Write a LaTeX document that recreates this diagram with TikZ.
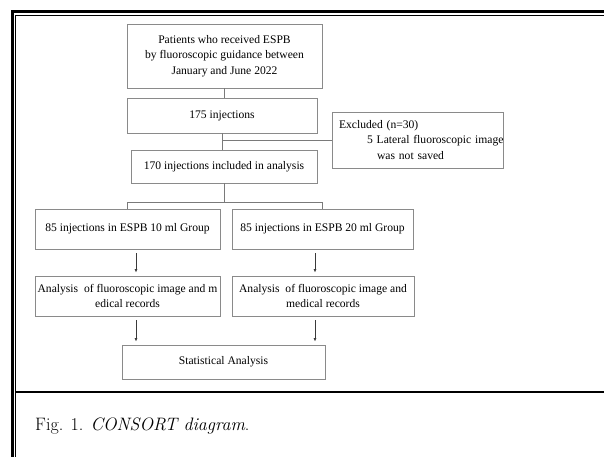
\documentclass[tikz,border=0pt]{standalone}
\usepackage{fontspec}
\usepackage{tikz}
\usetikzlibrary{arrows.meta,calc}
\usepackage{xcolor}
\newfontfamily\boxfont{Liberation Serif}
\definecolor{BoxGray}{HTML}{8A8A8A}
\definecolor{LinkGray}{HTML}{7A7A7A}
\definecolor{ArrowDark}{HTML}{3A3A3A}

\begin{document}
\begin{tikzpicture}[x=1pt,y=-1pt,>={Latex[length=3.5pt,width=3pt]},
  box/.style={draw=BoxGray,line width=.9pt,inner sep=2pt,align=center,
    font=\boxfont\fontsize{11.6}{15.5}\selectfont},
  link/.style={draw=LinkGray,line width=.9pt},
  arr/.style={->,draw=ArrowDark,line width=.7pt,shorten <=4pt,shorten >=3pt}]
\useasboundingbox (0,0) rectangle (604,456);

% Rahmen
\draw[line width=3pt] (12.5,470) -- (12.5,11.5) -- (620,11.5);
\draw[line width=1pt] (15.5,470) -- (15.5,15) -- (620,15);
\draw[line width=1.5pt] (15,392) -- (620,392);

% Kaesten
\node[box,minimum width=195pt,minimum height=64pt] (src) at (224.5,56)
  {Patients who received ESPB\\by fluoroscopic guidance between\\January and June 2022};
\node[box,minimum width=190pt,minimum height=35pt] (inj) at (222,115.5) {175 injections};
\node[box,minimum width=186pt,minimum height=33pt] (incl) at (224,166.5) {170 injections included in analysis};
\node[box,align=left,text width=157pt,inner xsep=7pt,minimum height=56pt] (excl) at (417.5,140)
  {\mbox{Excluded (n=30)}\\\mbox{\hspace{28pt}5 Lateral fluoroscopic image}\\\mbox{\hspace{38pt}was not saved}};
\node[box,minimum width=185pt,minimum height=40pt] (g10) at (127.5,229) {85 injections in ESPB 10 ml Group};
\node[box,minimum width=181pt,minimum height=40pt] (g20) at (322.5,229) {85 injections in ESPB 20 ml Group};
\node[box,minimum width=185pt,minimum height=40pt] (a10) at (127.5,296)
  {Analysis\ \ of fluoroscopic image and m\\edical records};
\node[box,minimum width=182pt,minimum height=40pt] (a20) at (323,296)
  {Analysis\ \ of fluoroscopic image and\\medical records};
\node[box,minimum width=203pt,minimum height=34pt] (stat) at (223.5,362) {Statistical Analysis};

% Verbindungen
\coordinate (split) at ($(incl.south)+(0,19)$);
\draw[link] (src.south) -- (src.south |- inj.north);
\draw[link] (inj.south) -- (inj.south |- incl.north);
\draw[link] (inj.south |- excl.west) -- (excl.west);
\draw[link] (incl.south) -- (split);
\draw[link] (g10.north) |- (split) -| (g20.north);

% Pfeile
\draw[arr] ([xshift=8.5pt]g10.south) -- ([xshift=8.5pt]g10.south |- a10.north);
\draw[arr] ([xshift=-7.5pt]g20.south) -- ([xshift=-7.5pt]g20.south |- a20.north);
\draw[arr] ([xshift=8.5pt]a10.south) -- ([xshift=8.5pt]a10.south |- stat.north);
\draw[arr] ([xshift=-8pt]a20.south) -- ([xshift=-8pt]a20.south |- stat.north);

% Beschriftung
\node[font=\fontsize{18}{20}\selectfont,anchor=base west,inner sep=0pt] (cap) at (35,430)
  {Fig. 1. \textit{CONSORT diagram}.};
\end{tikzpicture}
\end{document}
